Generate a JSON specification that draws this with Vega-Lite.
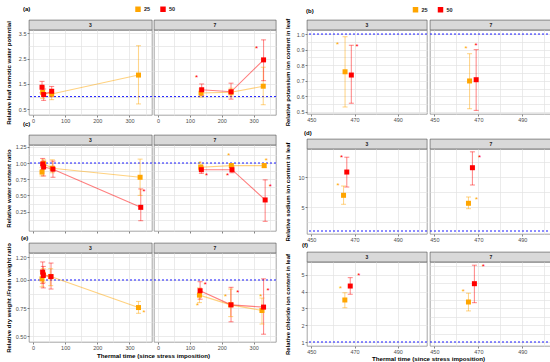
{
"$schema":"https://vega.github.io/schema/vega-lite/v6.json",
"background":"white",
"padding":{"left":4,"top":2,"right":0,"bottom":0},
"config":{
 "view":{"stroke":null},
 "font":"Liberation Sans",
 "axis":{"domain":false,"grid":true,"gridColor":"#E2E2E2","gridWidth":0.7,"gridOpacity":1,"tickSize":2,"tickColor":"#333333","tickWidth":0.6,"labelFontSize":5.5,"labelColor":"#4D4D4D","labelPadding":1,"labelFlush":false,"labelOverlap":false,"labelBound":false,"titleFontSize":6,"titleFontWeight":"bold","titleColor":"#000000"},
 "title":{"fontSize":6,"fontWeight":"bold","color":"#000000","anchor":"start"}
},
"datasets":{
 "A":[
  {"f":"3","g":"25","t":30,"m":1.17,"lo":0.93,"hi":1.38},
  {"f":"3","g":"50","t":28,"m":1.37,"lo":1.15,"hi":1.6},
  {"f":"3","g":"50","t":33,"m":1.08,"lo":0.85,"hi":1.3},
  {"f":"3","g":"25","t":58,"m":1.1,"lo":0.88,"hi":1.28},
  {"f":"3","g":"50","t":58,"m":1.21,"lo":1.0,"hi":1.4},
  {"f":"3","g":"25","t":328,"m":1.85,"lo":0.71,"hi":3.01},
  {"f":"7","g":"25","t":135,"m":1.14,"lo":0.98,"hi":1.3},
  {"f":"7","g":"50","t":137,"m":1.27,"lo":1.05,"hi":1.5},
  {"f":"7","g":"25","t":229,"m":1.17,"lo":1.02,"hi":1.33},
  {"f":"7","g":"50","t":229,"m":1.19,"lo":0.9,"hi":1.53},
  {"f":"7","g":"25","t":330,"m":1.41,"lo":0.68,"hi":2.16},
  {"f":"7","g":"50","t":331,"m":2.45,"lo":1.63,"hi":3.24}
 ],
 "As":[
  {"f":"7","g":"50","t":121,"v":1.8},
  {"f":"7","g":"50","t":309,"v":2.95}
 ],
 "C":[
  {"f":"3","g":"25","t":28,"m":0.86,"lo":0.8,"hi":0.93},
  {"f":"3","g":"25","t":33,"m":0.99,"lo":0.92,"hi":1.05},
  {"f":"3","g":"50","t":30,"m":0.985,"lo":0.9,"hi":1.07},
  {"f":"3","g":"50","t":33,"m":0.94,"lo":0.8,"hi":1.03},
  {"f":"3","g":"25","t":60,"m":0.92,"lo":0.85,"hi":1.05},
  {"f":"3","g":"50","t":62,"m":0.905,"lo":0.78,"hi":1.03},
  {"f":"3","g":"25","t":333,"m":0.78,"lo":0.5,"hi":1.06},
  {"f":"3","g":"50","t":335,"m":0.316,"lo":0.11,"hi":0.6},
  {"f":"7","g":"25","t":134,"m":0.935,"lo":0.89,"hi":0.98},
  {"f":"7","g":"50","t":136,"m":0.897,"lo":0.84,"hi":0.95},
  {"f":"7","g":"25","t":230,"m":0.96,"lo":0.93,"hi":0.99},
  {"f":"7","g":"50","t":232,"m":0.897,"lo":0.85,"hi":0.95},
  {"f":"7","g":"25","t":333,"m":0.96,"lo":0.93,"hi":0.99},
  {"f":"7","g":"50","t":336,"m":0.43,"lo":0.1,"hi":0.74}
 ],
 "Cs":[
  {"f":"3","g":"50","t":345,"v":0.59},
  {"f":"7","g":"25","t":133,"v":1.01},
  {"f":"7","g":"50","t":152,"v":0.83},
  {"f":"7","g":"25","t":222,"v":1.14},
  {"f":"7","g":"50","t":218,"v":0.83},
  {"f":"7","g":"25","t":340,"v":1.06},
  {"f":"7","g":"50","t":352,"v":0.665}
 ],
 "E":[
  {"f":"3","g":"25","t":28,"m":1.01,"lo":0.94,"hi":1.08},
  {"f":"3","g":"25","t":32,"m":1.05,"lo":0.98,"hi":1.1},
  {"f":"3","g":"50","t":30,"m":1.07,"lo":0.97,"hi":1.16},
  {"f":"3","g":"50","t":32,"m":1.04,"lo":0.93,"hi":1.12},
  {"f":"3","g":"25","t":55,"m":1.03,"lo":0.95,"hi":1.1},
  {"f":"3","g":"50","t":56,"m":1.03,"lo":0.92,"hi":1.15},
  {"f":"3","g":"25","t":328,"m":0.756,"lo":0.705,"hi":0.81},
  {"f":"7","g":"25","t":130,"m":0.866,"lo":0.8,"hi":0.93},
  {"f":"7","g":"50","t":132,"m":0.905,"lo":0.83,"hi":0.985},
  {"f":"7","g":"25","t":228,"m":0.78,"lo":0.676,"hi":0.92},
  {"f":"7","g":"50","t":229,"m":0.78,"lo":0.63,"hi":0.935},
  {"f":"7","g":"25","t":326,"m":0.73,"lo":0.61,"hi":0.84},
  {"f":"7","g":"50","t":331,"m":0.76,"lo":0.52,"hi":1.01}
 ],
 "Es":[
  {"f":"3","g":"25","t":345,"v":0.726},
  {"f":"7","g":"25","t":124,"v":0.79},
  {"f":"7","g":"50","t":148,"v":0.97},
  {"f":"7","g":"25","t":212,"v":0.866},
  {"f":"7","g":"50","t":250,"v":0.905},
  {"f":"7","g":"25","t":322,"v":0.87},
  {"f":"7","g":"50","t":345,"v":0.92}
 ],
 "B":[
  {"f":"3","g":"25","t":465.6,"m":0.758,"lo":0.532,"hi":0.983},
  {"f":"3","g":"50","t":468.5,"m":0.737,"lo":0.556,"hi":0.928},
  {"f":"7","g":"25","t":466,"m":0.699,"lo":0.521,"hi":0.874},
  {"f":"7","g":"50","t":469,"m":0.707,"lo":0.51,"hi":0.9}
 ],
 "Bs":[
  {"f":"3","g":"25","t":462.1,"v":0.94},
  {"f":"3","g":"50","t":471.2,"v":0.928},
  {"f":"7","g":"25","t":464.4,"v":0.915},
  {"f":"7","g":"50","t":469,"v":0.934}
 ],
 "D":[
  {"f":"3","g":"25","t":464.9,"m":6.95,"lo":5.45,"hi":8.5},
  {"f":"3","g":"50","t":466.4,"m":10.83,"lo":8.33,"hi":13.3},
  {"f":"7","g":"25","t":465.5,"m":5.62,"lo":4.72,"hi":6.67},
  {"f":"7","g":"50","t":467.3,"m":11.55,"lo":8.67,"hi":14.2}
 ],
 "Ds":[
  {"f":"3","g":"25","t":462.4,"v":8.78},
  {"f":"3","g":"50","t":464,"v":13.5},
  {"f":"7","g":"25","t":469.2,"v":6.45},
  {"f":"7","g":"50","t":470.6,"v":13.5}
 ],
 "F":[
  {"f":"3","g":"25","t":465.5,"m":3.5,"lo":3.04,"hi":3.93},
  {"f":"3","g":"50","t":468,"m":4.33,"lo":3.84,"hi":4.83},
  {"f":"7","g":"25","t":465.5,"m":3.38,"lo":2.85,"hi":3.9},
  {"f":"7","g":"50","t":468.2,"m":4.47,"lo":3.34,"hi":5.57}
 ],
 "Fs":[
  {"f":"3","g":"25","t":463.5,"v":4.29},
  {"f":"3","g":"50","t":472,"v":5.03},
  {"f":"7","g":"25","t":463.2,"v":4.11},
  {"f":"7","g":"50","t":472.3,"v":5.57}
 ]
},
"spacing":6,
"resolve":{"legend":{"color":"independent"}},
"hconcat":[
{
 "columns":2,"bounds":"flush","spacing":{"row":0,"column":2},
 "resolve":{"legend":{"color":"independent"}},
 "concat":[
  {"width":123,"height":10,"title":{"text":"(a)","offset":8,"dx":-6},"data":{"values":[{"f":"3"}]},"mark":{"type":"text","fontSize":5,"fontWeight":"bold","color":"#1A1A1A","baseline":"middle"},"encoding":{"text":{"field":"f"}},"view":{"fill":"#D9D9D9","stroke":"#4D4D4D","strokeWidth":0.6}},
  {"width":122,"height":10,"data":{"values":[{"f":"7"}]},"mark":{"type":"text","fontSize":5,"fontWeight":"bold","color":"#1A1A1A","baseline":"middle"},"encoding":{"text":{"field":"f"}},"view":{"fill":"#D9D9D9","stroke":"#4D4D4D","strokeWidth":0.6}},
  {"width":123,"height":85,"view":{"stroke":"#7F7F7F","strokeWidth":0.7},"data":{"name":"A"},"transform":[{"filter":"datum.f == '3'"}],
   "layer":[
    {"data":{"values":[{}]},"mark":{"type":"rule","color":"#0000FF","strokeDash":[2,2],"strokeWidth":0.9},"encoding":{"y":{"datum":1}}},
    {"mark":{"type":"rule","strokeOpacity":0.45,"strokeWidth":1.1},"encoding":{
      "x":{"field":"t","type":"quantitative","scale":{"domain":[-12.5,370],"nice":false,"zero":false},"axis":{"values":[0,50,100,150,200,250,300,350],"tickCount":50,"format":"d","labelExpr":"datum.value % 100 == 0 ? datum.label : ''","tickOpacity":{"condition":{"test":"datum.value % 100 == 0","value":1},"value":0},"title":null}},
      "y":{"field":"lo","type":"quantitative","scale":{"domain":[0.273,3.63],"nice":false,"zero":false},"axis":{"values":[0.5,1,1.5,2,2.5,3,3.5],"tickCount":50,"format":".1f","labelExpr":"indexof([0.5,1.5,2.5,3.5], datum.value) >= 0 ? datum.label : ''","tickOpacity":{"condition":{"test":"indexof([0.5,1.5,2.5,3.5], datum.value) >= 0","value":1},"value":0},"title":"Relative leaf osmotic water potential","titleX":-21,"titleBaseline":"middle"}},
      "y2":{"field":"hi"},
      "color":{"field":"g","type":"nominal","scale":{"domain":["25","50"],"range":["#FFA500","#FF0000"]},"legend":{"title":null,"orient":"none","legendX":106,"legendY":-24,"direction":"horizontal","symbolType":"square","symbolSize":30,"symbolStrokeWidth":0,"symbolOpacity":1,"labelFontSize":5.5,"labelFontWeight":"bold","labelColor":"#1A1A1A","labelOffset":3,"columnPadding":9,"padding":0}}}},
    {"mark":{"type":"tick","orient":"horizontal","size":5,"thickness":1.1,"fillOpacity":0.45},"encoding":{"x":{"field":"t","type":"quantitative"},"y":{"field":"lo","type":"quantitative"},"color":{"field":"g","type":"nominal"}}},
    {"mark":{"type":"tick","orient":"horizontal","size":5,"thickness":1.1,"fillOpacity":0.45},"encoding":{"x":{"field":"t","type":"quantitative"},"y":{"field":"hi","type":"quantitative"},"color":{"field":"g","type":"nominal"}}},
    {"mark":{"type":"line","strokeOpacity":0.5,"strokeWidth":1.1},"encoding":{"x":{"field":"t","type":"quantitative"},"y":{"field":"m","type":"quantitative"},"color":{"field":"g","type":"nominal"}}},
    {"mark":{"type":"point","shape":"square","filled":true,"size":25,"opacity":1},"encoding":{"x":{"field":"t","type":"quantitative"},"y":{"field":"m","type":"quantitative"},"color":{"field":"g","type":"nominal"}}},
    {"data":{"name":"As"},"transform":[{"filter":"datum.f == '3'"}],"mark":{"type":"text","text":"*","fontSize":8,"baseline":"middle","dy":2},"encoding":{"x":{"field":"t","type":"quantitative"},"y":{"field":"v","type":"quantitative"},"color":{"field":"g","type":"nominal"}}}
   ]},
  {"width":122,"height":85,"view":{"stroke":"#7F7F7F","strokeWidth":0.7},"data":{"name":"A"},"transform":[{"filter":"datum.f == '7'"}],
   "layer":[
    {"data":{"values":[{}]},"mark":{"type":"rule","color":"#0000FF","strokeDash":[2,2],"strokeWidth":0.9},"encoding":{"y":{"datum":1}}},
    {"mark":{"type":"rule","strokeOpacity":0.45,"strokeWidth":1.1},"encoding":{
      "x":{"field":"t","type":"quantitative","scale":{"domain":[-12.5,370],"nice":false,"zero":false},"axis":{"values":[0,50,100,150,200,250,300,350],"tickCount":50,"format":"d","labelExpr":"datum.value % 100 == 0 ? datum.label : ''","tickOpacity":{"condition":{"test":"datum.value % 100 == 0","value":1},"value":0},"title":null}},
      "y":{"field":"lo","type":"quantitative","scale":{"domain":[0.273,3.63],"nice":false,"zero":false},"axis":{"values":[0.5,1,1.5,2,2.5,3,3.5],"tickCount":50,"labels":false,"ticks":false,"title":null}},
      "y2":{"field":"hi"},
      "color":{"field":"g","type":"nominal","scale":{"domain":["25","50"],"range":["#FFA500","#FF0000"]},"legend":null}}},
    {"mark":{"type":"tick","orient":"horizontal","size":5,"thickness":1.1,"fillOpacity":0.45},"encoding":{"x":{"field":"t","type":"quantitative"},"y":{"field":"lo","type":"quantitative"},"color":{"field":"g","type":"nominal","legend":null}}},
    {"mark":{"type":"tick","orient":"horizontal","size":5,"thickness":1.1,"fillOpacity":0.45},"encoding":{"x":{"field":"t","type":"quantitative"},"y":{"field":"hi","type":"quantitative"},"color":{"field":"g","type":"nominal","legend":null}}},
    {"mark":{"type":"line","strokeOpacity":0.5,"strokeWidth":1.1},"encoding":{"x":{"field":"t","type":"quantitative"},"y":{"field":"m","type":"quantitative"},"color":{"field":"g","type":"nominal","legend":null}}},
    {"mark":{"type":"point","shape":"square","filled":true,"size":25,"opacity":1},"encoding":{"x":{"field":"t","type":"quantitative"},"y":{"field":"m","type":"quantitative"},"color":{"field":"g","type":"nominal","legend":null}}},
    {"data":{"name":"As"},"transform":[{"filter":"datum.f == '7'"}],"mark":{"type":"text","text":"*","fontSize":8,"baseline":"middle","dy":2},"encoding":{"x":{"field":"t","type":"quantitative"},"y":{"field":"v","type":"quantitative"},"color":{"field":"g","type":"nominal","legend":null}}}
   ]},
  {"width":123,"height":20,"data":{"values":[]},"mark":"point"},
  {"width":122,"height":20,"data":{"values":[]},"mark":"point"},
  {"width":123,"height":10,"title":{"text":"(c)","offset":8,"dx":-6},"data":{"values":[{"f":"3"}]},"mark":{"type":"text","fontSize":5,"fontWeight":"bold","color":"#1A1A1A","baseline":"middle"},"encoding":{"text":{"field":"f"}},"view":{"fill":"#D9D9D9","stroke":"#4D4D4D","strokeWidth":0.6}},
  {"width":122,"height":10,"data":{"values":[{"f":"7"}]},"mark":{"type":"text","fontSize":5,"fontWeight":"bold","color":"#1A1A1A","baseline":"middle"},"encoding":{"text":{"field":"f"}},"view":{"fill":"#D9D9D9","stroke":"#4D4D4D","strokeWidth":0.6}},
  {"width":123,"height":86,"view":{"stroke":"#7F7F7F","strokeWidth":0.7},"data":{"name":"C"},"transform":[{"filter":"datum.f == '3'"}],
   "layer":[
    {"data":{"values":[{}]},"mark":{"type":"rule","color":"#0000FF","strokeDash":[2,2],"strokeWidth":0.9},"encoding":{"y":{"datum":1}}},
    {"mark":{"type":"rule","strokeOpacity":0.45,"strokeWidth":1.1},"encoding":{
      "x":{"field":"t","type":"quantitative","scale":{"domain":[-12.5,370],"nice":false,"zero":false},"axis":{"values":[0,50,100,150,200,250,300,350],"tickCount":50,"labels":false,"tickOpacity":{"condition":{"test":"datum.value % 100 == 0","value":1},"value":0},"title":null}},
      "y":{"field":"lo","type":"quantitative","scale":{"domain":[-0.049,1.278],"nice":false,"zero":false},"axis":{"values":[0.125,0.25,0.375,0.5,0.625,0.75,0.875,1,1.125,1.25],"tickCount":50,"format":".2f","labelExpr":"indexof([0.25,0.5,0.75,1,1.25], datum.value) >= 0 ? datum.label : ''","tickOpacity":{"condition":{"test":"indexof([0.25,0.5,0.75,1,1.25], datum.value) >= 0","value":1},"value":0},"title":"Relative water content ratio","titleX":-21,"titleBaseline":"middle"}},
      "y2":{"field":"hi"},
      "color":{"field":"g","type":"nominal","scale":{"domain":["25","50"],"range":["#FFA500","#FF0000"]},"legend":null}}},
    {"mark":{"type":"tick","orient":"horizontal","size":5,"thickness":1.1,"fillOpacity":0.45},"encoding":{"x":{"field":"t","type":"quantitative"},"y":{"field":"lo","type":"quantitative"},"color":{"field":"g","type":"nominal","legend":null}}},
    {"mark":{"type":"tick","orient":"horizontal","size":5,"thickness":1.1,"fillOpacity":0.45},"encoding":{"x":{"field":"t","type":"quantitative"},"y":{"field":"hi","type":"quantitative"},"color":{"field":"g","type":"nominal","legend":null}}},
    {"mark":{"type":"line","strokeOpacity":0.5,"strokeWidth":1.1},"encoding":{"x":{"field":"t","type":"quantitative"},"y":{"field":"m","type":"quantitative"},"color":{"field":"g","type":"nominal","legend":null}}},
    {"mark":{"type":"point","shape":"square","filled":true,"size":25,"opacity":1},"encoding":{"x":{"field":"t","type":"quantitative"},"y":{"field":"m","type":"quantitative"},"color":{"field":"g","type":"nominal","legend":null}}},
    {"data":{"name":"Cs"},"transform":[{"filter":"datum.f == '3'"}],"mark":{"type":"text","text":"*","fontSize":8,"baseline":"middle","dy":2},"encoding":{"x":{"field":"t","type":"quantitative"},"y":{"field":"v","type":"quantitative"},"color":{"field":"g","type":"nominal","legend":null}}}
   ]},
  {"width":122,"height":86,"view":{"stroke":"#7F7F7F","strokeWidth":0.7},"data":{"name":"C"},"transform":[{"filter":"datum.f == '7'"}],
   "layer":[
    {"data":{"values":[{}]},"mark":{"type":"rule","color":"#0000FF","strokeDash":[2,2],"strokeWidth":0.9},"encoding":{"y":{"datum":1}}},
    {"mark":{"type":"rule","strokeOpacity":0.45,"strokeWidth":1.1},"encoding":{
      "x":{"field":"t","type":"quantitative","scale":{"domain":[-12.5,370],"nice":false,"zero":false},"axis":{"values":[0,50,100,150,200,250,300,350],"tickCount":50,"labels":false,"tickOpacity":{"condition":{"test":"datum.value % 100 == 0","value":1},"value":0},"title":null}},
      "y":{"field":"lo","type":"quantitative","scale":{"domain":[-0.049,1.278],"nice":false,"zero":false},"axis":{"values":[0.125,0.25,0.375,0.5,0.625,0.75,0.875,1,1.125,1.25],"tickCount":50,"labels":false,"ticks":false,"title":null}},
      "y2":{"field":"hi"},
      "color":{"field":"g","type":"nominal","scale":{"domain":["25","50"],"range":["#FFA500","#FF0000"]},"legend":null}}},
    {"mark":{"type":"tick","orient":"horizontal","size":5,"thickness":1.1,"fillOpacity":0.45},"encoding":{"x":{"field":"t","type":"quantitative"},"y":{"field":"lo","type":"quantitative"},"color":{"field":"g","type":"nominal","legend":null}}},
    {"mark":{"type":"tick","orient":"horizontal","size":5,"thickness":1.1,"fillOpacity":0.45},"encoding":{"x":{"field":"t","type":"quantitative"},"y":{"field":"hi","type":"quantitative"},"color":{"field":"g","type":"nominal","legend":null}}},
    {"mark":{"type":"line","strokeOpacity":0.5,"strokeWidth":1.1},"encoding":{"x":{"field":"t","type":"quantitative"},"y":{"field":"m","type":"quantitative"},"color":{"field":"g","type":"nominal","legend":null}}},
    {"mark":{"type":"point","shape":"square","filled":true,"size":25,"opacity":1},"encoding":{"x":{"field":"t","type":"quantitative"},"y":{"field":"m","type":"quantitative"},"color":{"field":"g","type":"nominal","legend":null}}},
    {"data":{"name":"Cs"},"transform":[{"filter":"datum.f == '7'"}],"mark":{"type":"text","text":"*","fontSize":8,"baseline":"middle","dy":2},"encoding":{"x":{"field":"t","type":"quantitative"},"y":{"field":"v","type":"quantitative"},"color":{"field":"g","type":"nominal","legend":null}}}
   ]},
  {"width":123,"height":12,"data":{"values":[]},"mark":"point"},
  {"width":122,"height":12,"data":{"values":[]},"mark":"point"},
  {"width":123,"height":10,"title":{"text":"(e)","offset":2,"dx":-8},"data":{"values":[{"f":"3"}]},"mark":{"type":"text","fontSize":5,"fontWeight":"bold","color":"#1A1A1A","baseline":"middle"},"encoding":{"text":{"field":"f"}},"view":{"fill":"#D9D9D9","stroke":"#4D4D4D","strokeWidth":0.6}},
  {"width":122,"height":10,"data":{"values":[{"f":"7"}]},"mark":{"type":"text","fontSize":5,"fontWeight":"bold","color":"#1A1A1A","baseline":"middle"},"encoding":{"text":{"field":"f"}},"view":{"fill":"#D9D9D9","stroke":"#4D4D4D","strokeWidth":0.6}},
  {"width":123,"height":89,"view":{"stroke":"#7F7F7F","strokeWidth":0.7},"data":{"name":"E"},"transform":[{"filter":"datum.f == '3'"}],
   "layer":[
    {"data":{"values":[{}]},"mark":{"type":"rule","color":"#0000FF","strokeDash":[2,2],"strokeWidth":0.9},"encoding":{"y":{"datum":1}}},
    {"mark":{"type":"rule","strokeOpacity":0.45,"strokeWidth":1.1},"encoding":{
      "x":{"field":"t","type":"quantitative","scale":{"domain":[-12.5,370],"nice":false,"zero":false},"axis":{"values":[0,50,100,150,200,250,300,350],"tickCount":50,"format":"d","labelExpr":"datum.value % 100 == 0 ? datum.label : ''","tickOpacity":{"condition":{"test":"datum.value % 100 == 0","value":1},"value":0},"title":"Thermal time (since stress imposition)","titleX":124,"titleY":13,"titleBaseline":"middle","titleAlign":"center","titleFontSize":6.2}},
      "y":{"field":"lo","type":"quantitative","scale":{"domain":[0.451,1.239],"nice":false,"zero":false},"axis":{"values":[0.5,0.625,0.75,0.875,1,1.1,1.2],"tickCount":50,"format":".2f","labelExpr":"indexof([0.5,0.75,1,1.2], datum.value) >= 0 ? datum.label : ''","tickOpacity":{"condition":{"test":"indexof([0.5,0.75,1,1.2], datum.value) >= 0","value":1},"value":0},"title":"Relative dry weight /Fresh weight ratio","titleX":-21,"titleBaseline":"middle"}},
      "y2":{"field":"hi"},
      "color":{"field":"g","type":"nominal","scale":{"domain":["25","50"],"range":["#FFA500","#FF0000"]},"legend":null}}},
    {"mark":{"type":"tick","orient":"horizontal","size":5,"thickness":1.1,"fillOpacity":0.45},"encoding":{"x":{"field":"t","type":"quantitative"},"y":{"field":"lo","type":"quantitative"},"color":{"field":"g","type":"nominal","legend":null}}},
    {"mark":{"type":"tick","orient":"horizontal","size":5,"thickness":1.1,"fillOpacity":0.45},"encoding":{"x":{"field":"t","type":"quantitative"},"y":{"field":"hi","type":"quantitative"},"color":{"field":"g","type":"nominal","legend":null}}},
    {"mark":{"type":"line","strokeOpacity":0.5,"strokeWidth":1.1},"encoding":{"x":{"field":"t","type":"quantitative"},"y":{"field":"m","type":"quantitative"},"color":{"field":"g","type":"nominal","legend":null}}},
    {"mark":{"type":"point","shape":"square","filled":true,"size":25,"opacity":1},"encoding":{"x":{"field":"t","type":"quantitative"},"y":{"field":"m","type":"quantitative"},"color":{"field":"g","type":"nominal","legend":null}}},
    {"data":{"name":"Es"},"transform":[{"filter":"datum.f == '3'"}],"mark":{"type":"text","text":"*","fontSize":8,"baseline":"middle","dy":2},"encoding":{"x":{"field":"t","type":"quantitative"},"y":{"field":"v","type":"quantitative"},"color":{"field":"g","type":"nominal","legend":null}}}
   ]},
  {"width":122,"height":89,"view":{"stroke":"#7F7F7F","strokeWidth":0.7},"data":{"name":"E"},"transform":[{"filter":"datum.f == '7'"}],
   "layer":[
    {"data":{"values":[{}]},"mark":{"type":"rule","color":"#0000FF","strokeDash":[2,2],"strokeWidth":0.9},"encoding":{"y":{"datum":1}}},
    {"mark":{"type":"rule","strokeOpacity":0.45,"strokeWidth":1.1},"encoding":{
      "x":{"field":"t","type":"quantitative","scale":{"domain":[-12.5,370],"nice":false,"zero":false},"axis":{"values":[0,50,100,150,200,250,300,350],"tickCount":50,"format":"d","labelExpr":"datum.value % 100 == 0 ? datum.label : ''","tickOpacity":{"condition":{"test":"datum.value % 100 == 0","value":1},"value":0},"title":null}},
      "y":{"field":"lo","type":"quantitative","scale":{"domain":[0.451,1.239],"nice":false,"zero":false},"axis":{"values":[0.5,0.625,0.75,0.875,1,1.1,1.2],"tickCount":50,"labels":false,"ticks":false,"title":null}},
      "y2":{"field":"hi"},
      "color":{"field":"g","type":"nominal","scale":{"domain":["25","50"],"range":["#FFA500","#FF0000"]},"legend":null}}},
    {"mark":{"type":"tick","orient":"horizontal","size":5,"thickness":1.1,"fillOpacity":0.45},"encoding":{"x":{"field":"t","type":"quantitative"},"y":{"field":"lo","type":"quantitative"},"color":{"field":"g","type":"nominal","legend":null}}},
    {"mark":{"type":"tick","orient":"horizontal","size":5,"thickness":1.1,"fillOpacity":0.45},"encoding":{"x":{"field":"t","type":"quantitative"},"y":{"field":"hi","type":"quantitative"},"color":{"field":"g","type":"nominal","legend":null}}},
    {"mark":{"type":"line","strokeOpacity":0.5,"strokeWidth":1.1},"encoding":{"x":{"field":"t","type":"quantitative"},"y":{"field":"m","type":"quantitative"},"color":{"field":"g","type":"nominal","legend":null}}},
    {"mark":{"type":"point","shape":"square","filled":true,"size":25,"opacity":1},"encoding":{"x":{"field":"t","type":"quantitative"},"y":{"field":"m","type":"quantitative"},"color":{"field":"g","type":"nominal","legend":null}}},
    {"data":{"name":"Es"},"transform":[{"filter":"datum.f == '7'"}],"mark":{"type":"text","text":"*","fontSize":8,"baseline":"middle","dy":2},"encoding":{"x":{"field":"t","type":"quantitative"},"y":{"field":"v","type":"quantitative"},"color":{"field":"g","type":"nominal","legend":null}}}
   ]}
 ]
},
{
 "columns":2,"bounds":"flush","spacing":{"row":0,"column":3},
 "resolve":{"legend":{"color":"independent"}},
 "concat":[
  {"width":120,"height":10,"title":{"text":"(b)","offset":6,"dx":-1},"data":{"values":[{"f":"3"}]},"mark":{"type":"text","fontSize":5,"fontWeight":"bold","color":"#1A1A1A","baseline":"middle"},"encoding":{"text":{"field":"f"}},"view":{"fill":"#D9D9D9","stroke":"#4D4D4D","strokeWidth":0.6}},
  {"width":122,"height":10,"data":{"values":[{"f":"7"}]},"mark":{"type":"text","fontSize":5,"fontWeight":"bold","color":"#1A1A1A","baseline":"middle"},"encoding":{"text":{"field":"f"}},"view":{"fill":"#D9D9D9","stroke":"#4D4D4D","strokeWidth":0.6}},
  {"width":120,"height":84,"view":{"stroke":"#7F7F7F","strokeWidth":0.7},"data":{"name":"B"},"transform":[{"filter":"datum.f == '3'"}],
   "layer":[
    {"data":{"values":[{}]},"mark":{"type":"rule","color":"#0000FF","strokeDash":[2,2],"strokeWidth":0.9},"encoding":{"y":{"datum":1}}},
    {"mark":{"type":"rule","strokeOpacity":0.45,"strokeWidth":1.1},"encoding":{
      "x":{"field":"t","type":"quantitative","scale":{"domain":[448,503.5],"nice":false,"zero":false},"axis":{"values":[450,460,470,480,490,500],"tickCount":50,"format":"d","labelExpr":"(datum.value - 450) % 20 == 0 ? datum.label : ''","tickOpacity":{"condition":{"test":"(datum.value - 450) % 20 == 0","value":1},"value":0},"title":null}},
      "y":{"field":"lo","type":"quantitative","scale":{"domain":[0.487,1.026],"nice":false,"zero":false},"axis":{"values":[0.5,0.55,0.6,0.65,0.7,0.75,0.8,0.85,0.9,0.95,1],"tickCount":50,"format":".1f","labelExpr":"indexof([0.5,0.6,0.7,0.8,0.9,1], datum.value) >= 0 ? datum.label : ''","tickOpacity":{"condition":{"test":"indexof([0.5,0.6,0.7,0.8,0.9,1], datum.value) >= 0","value":1},"value":0},"title":"Relative potassium ion content in leaf","titleX":-20,"titleBaseline":"middle"}},
      "y2":{"field":"hi"},
      "color":{"field":"g","type":"nominal","scale":{"domain":["25","50"],"range":["#FFA500","#FF0000"]},"legend":{"title":null,"orient":"none","legendX":102,"legendY":-27,"direction":"horizontal","symbolType":"square","symbolSize":30,"symbolStrokeWidth":0,"symbolOpacity":1,"labelFontSize":5.5,"labelFontWeight":"bold","labelColor":"#1A1A1A","labelOffset":3,"columnPadding":9,"padding":3.5}}}},
    {"mark":{"type":"tick","orient":"horizontal","size":5,"thickness":1.1,"fillOpacity":0.45},"encoding":{"x":{"field":"t","type":"quantitative"},"y":{"field":"lo","type":"quantitative"},"color":{"field":"g","type":"nominal"}}},
    {"mark":{"type":"tick","orient":"horizontal","size":5,"thickness":1.1,"fillOpacity":0.45},"encoding":{"x":{"field":"t","type":"quantitative"},"y":{"field":"hi","type":"quantitative"},"color":{"field":"g","type":"nominal"}}},
    {"mark":{"type":"point","shape":"square","filled":true,"size":25,"opacity":1},"encoding":{"x":{"field":"t","type":"quantitative"},"y":{"field":"m","type":"quantitative"},"color":{"field":"g","type":"nominal"}}},
    {"data":{"name":"Bs"},"transform":[{"filter":"datum.f == '3'"}],"mark":{"type":"text","text":"*","fontSize":8,"baseline":"middle","dy":2},"encoding":{"x":{"field":"t","type":"quantitative"},"y":{"field":"v","type":"quantitative"},"color":{"field":"g","type":"nominal"}}}
   ]},
  {"width":122,"height":84,"view":{"stroke":"#7F7F7F","strokeWidth":0.7},"data":{"name":"B"},"transform":[{"filter":"datum.f == '7'"}],
   "layer":[
    {"data":{"values":[{}]},"mark":{"type":"rule","color":"#0000FF","strokeDash":[2,2],"strokeWidth":0.9},"encoding":{"y":{"datum":1}}},
    {"mark":{"type":"rule","strokeOpacity":0.45,"strokeWidth":1.1},"encoding":{
      "x":{"field":"t","type":"quantitative","scale":{"domain":[448,503.5],"nice":false,"zero":false},"axis":{"values":[450,460,470,480,490,500],"tickCount":50,"format":"d","labelExpr":"(datum.value - 450) % 20 == 0 ? datum.label : ''","tickOpacity":{"condition":{"test":"(datum.value - 450) % 20 == 0","value":1},"value":0},"title":null}},
      "y":{"field":"lo","type":"quantitative","scale":{"domain":[0.487,1.026],"nice":false,"zero":false},"axis":{"values":[0.5,0.55,0.6,0.65,0.7,0.75,0.8,0.85,0.9,0.95,1],"tickCount":50,"labels":false,"ticks":false,"title":null}},
      "y2":{"field":"hi"},
      "color":{"field":"g","type":"nominal","scale":{"domain":["25","50"],"range":["#FFA500","#FF0000"]},"legend":null}}},
    {"mark":{"type":"tick","orient":"horizontal","size":5,"thickness":1.1,"fillOpacity":0.45},"encoding":{"x":{"field":"t","type":"quantitative"},"y":{"field":"lo","type":"quantitative"},"color":{"field":"g","type":"nominal","legend":null}}},
    {"mark":{"type":"tick","orient":"horizontal","size":5,"thickness":1.1,"fillOpacity":0.45},"encoding":{"x":{"field":"t","type":"quantitative"},"y":{"field":"hi","type":"quantitative"},"color":{"field":"g","type":"nominal","legend":null}}},
    {"mark":{"type":"point","shape":"square","filled":true,"size":25,"opacity":1},"encoding":{"x":{"field":"t","type":"quantitative"},"y":{"field":"m","type":"quantitative"},"color":{"field":"g","type":"nominal","legend":null}}},
    {"data":{"name":"Bs"},"transform":[{"filter":"datum.f == '7'"}],"mark":{"type":"text","text":"*","fontSize":8,"baseline":"middle","dy":2},"encoding":{"x":{"field":"t","type":"quantitative"},"y":{"field":"v","type":"quantitative"},"color":{"field":"g","type":"nominal","legend":null}}}
   ]},
  {"width":120,"height":25,"data":{"values":[]},"mark":"point"},
  {"width":122,"height":25,"data":{"values":[]},"mark":"point"},
  {"width":120,"height":10,"title":{"text":"(d)","offset":3,"dx":-3},"data":{"values":[{"f":"3"}]},"mark":{"type":"text","fontSize":5,"fontWeight":"bold","color":"#1A1A1A","baseline":"middle"},"encoding":{"text":{"field":"f"}},"view":{"fill":"#D9D9D9","stroke":"#4D4D4D","strokeWidth":0.6}},
  {"width":122,"height":10,"data":{"values":[{"f":"7"}]},"mark":{"type":"text","fontSize":5,"fontWeight":"bold","color":"#1A1A1A","baseline":"middle"},"encoding":{"text":{"field":"f"}},"view":{"fill":"#D9D9D9","stroke":"#4D4D4D","strokeWidth":0.6}},
  {"width":120,"height":85,"view":{"stroke":"#7F7F7F","strokeWidth":0.7},"data":{"name":"D"},"transform":[{"filter":"datum.f == '3'"}],
   "layer":[
    {"data":{"values":[{}]},"mark":{"type":"rule","color":"#0000FF","strokeDash":[2,2],"strokeWidth":0.9},"encoding":{"y":{"datum":1}}},
    {"mark":{"type":"rule","strokeOpacity":0.45,"strokeWidth":1.1},"encoding":{
      "x":{"field":"t","type":"quantitative","scale":{"domain":[448,503.5],"nice":false,"zero":false},"axis":{"values":[450,460,470,480,490,500],"tickCount":50,"format":"d","labelExpr":"(datum.value - 450) % 20 == 0 ? datum.label : ''","tickOpacity":{"condition":{"test":"(datum.value - 450) % 20 == 0","value":1},"value":0},"title":null}},
      "y":{"field":"lo","type":"quantitative","scale":{"domain":[0.5,14.67],"nice":false,"zero":false},"axis":{"values":[2.5,5,7.5,10,12.5],"tickCount":50,"format":"d","labelExpr":"indexof([5,10], datum.value) >= 0 ? datum.label : ''","tickOpacity":{"condition":{"test":"indexof([5,10], datum.value) >= 0","value":1},"value":0},"title":"Relative sodium ion content in leaf","titleX":-20,"titleBaseline":"middle"}},
      "y2":{"field":"hi"},
      "color":{"field":"g","type":"nominal","scale":{"domain":["25","50"],"range":["#FFA500","#FF0000"]},"legend":null}}},
    {"mark":{"type":"tick","orient":"horizontal","size":5,"thickness":1.1,"fillOpacity":0.45},"encoding":{"x":{"field":"t","type":"quantitative"},"y":{"field":"lo","type":"quantitative"},"color":{"field":"g","type":"nominal","legend":null}}},
    {"mark":{"type":"tick","orient":"horizontal","size":5,"thickness":1.1,"fillOpacity":0.45},"encoding":{"x":{"field":"t","type":"quantitative"},"y":{"field":"hi","type":"quantitative"},"color":{"field":"g","type":"nominal","legend":null}}},
    {"mark":{"type":"point","shape":"square","filled":true,"size":25,"opacity":1},"encoding":{"x":{"field":"t","type":"quantitative"},"y":{"field":"m","type":"quantitative"},"color":{"field":"g","type":"nominal","legend":null}}},
    {"data":{"name":"Ds"},"transform":[{"filter":"datum.f == '3'"}],"mark":{"type":"text","text":"*","fontSize":8,"baseline":"middle","dy":2},"encoding":{"x":{"field":"t","type":"quantitative"},"y":{"field":"v","type":"quantitative"},"color":{"field":"g","type":"nominal","legend":null}}}
   ]},
  {"width":122,"height":85,"view":{"stroke":"#7F7F7F","strokeWidth":0.7},"data":{"name":"D"},"transform":[{"filter":"datum.f == '7'"}],
   "layer":[
    {"data":{"values":[{}]},"mark":{"type":"rule","color":"#0000FF","strokeDash":[2,2],"strokeWidth":0.9},"encoding":{"y":{"datum":1}}},
    {"mark":{"type":"rule","strokeOpacity":0.45,"strokeWidth":1.1},"encoding":{
      "x":{"field":"t","type":"quantitative","scale":{"domain":[448,503.5],"nice":false,"zero":false},"axis":{"values":[450,460,470,480,490,500],"tickCount":50,"format":"d","labelExpr":"(datum.value - 450) % 20 == 0 ? datum.label : ''","tickOpacity":{"condition":{"test":"(datum.value - 450) % 20 == 0","value":1},"value":0},"title":null}},
      "y":{"field":"lo","type":"quantitative","scale":{"domain":[0.5,14.67],"nice":false,"zero":false},"axis":{"values":[2.5,5,7.5,10,12.5],"tickCount":50,"labels":false,"ticks":false,"title":null}},
      "y2":{"field":"hi"},
      "color":{"field":"g","type":"nominal","scale":{"domain":["25","50"],"range":["#FFA500","#FF0000"]},"legend":null}}},
    {"mark":{"type":"tick","orient":"horizontal","size":5,"thickness":1.1,"fillOpacity":0.45},"encoding":{"x":{"field":"t","type":"quantitative"},"y":{"field":"lo","type":"quantitative"},"color":{"field":"g","type":"nominal","legend":null}}},
    {"mark":{"type":"tick","orient":"horizontal","size":5,"thickness":1.1,"fillOpacity":0.45},"encoding":{"x":{"field":"t","type":"quantitative"},"y":{"field":"hi","type":"quantitative"},"color":{"field":"g","type":"nominal","legend":null}}},
    {"mark":{"type":"point","shape":"square","filled":true,"size":25,"opacity":1},"encoding":{"x":{"field":"t","type":"quantitative"},"y":{"field":"m","type":"quantitative"},"color":{"field":"g","type":"nominal","legend":null}}},
    {"data":{"name":"Ds"},"transform":[{"filter":"datum.f == '7'"}],"mark":{"type":"text","text":"*","fontSize":8,"baseline":"middle","dy":2},"encoding":{"x":{"field":"t","type":"quantitative"},"y":{"field":"v","type":"quantitative"},"color":{"field":"g","type":"nominal","legend":null}}}
   ]},
  {"width":120,"height":18,"data":{"values":[]},"mark":"point"},
  {"width":122,"height":18,"data":{"values":[]},"mark":"point"},
  {"width":120,"height":10,"title":{"text":"(f)","offset":4,"dx":-5},"data":{"values":[{"f":"3"}]},"mark":{"type":"text","fontSize":5,"fontWeight":"bold","color":"#1A1A1A","baseline":"middle"},"encoding":{"text":{"field":"f"}},"view":{"fill":"#D9D9D9","stroke":"#4D4D4D","strokeWidth":0.6}},
  {"width":122,"height":10,"data":{"values":[{"f":"7"}]},"mark":{"type":"text","fontSize":5,"fontWeight":"bold","color":"#1A1A1A","baseline":"middle"},"encoding":{"text":{"field":"f"}},"view":{"fill":"#D9D9D9","stroke":"#4D4D4D","strokeWidth":0.6}},
  {"width":120,"height":84,"view":{"stroke":"#7F7F7F","strokeWidth":0.7},"data":{"name":"F"},"transform":[{"filter":"datum.f == '3'"}],
   "layer":[
    {"data":{"values":[{}]},"mark":{"type":"rule","color":"#0000FF","strokeDash":[2,2],"strokeWidth":0.9},"encoding":{"y":{"datum":1}}},
    {"mark":{"type":"rule","strokeOpacity":0.45,"strokeWidth":1.1},"encoding":{
      "x":{"field":"t","type":"quantitative","scale":{"domain":[448,503.5],"nice":false,"zero":false},"axis":{"values":[450,460,470,480,490,500],"tickCount":50,"format":"d","labelExpr":"(datum.value - 450) % 20 == 0 ? datum.label : ''","tickOpacity":{"condition":{"test":"(datum.value - 450) % 20 == 0","value":1},"value":0},"title":"Thermal time (since stress imposition)","titleX":121,"titleY":12,"titleBaseline":"middle","titleAlign":"center","titleFontSize":6.2}},
      "y":{"field":"lo","type":"quantitative","scale":{"domain":[0.762,5.76],"nice":false,"zero":false},"axis":{"values":[1,1.5,2,2.5,3,3.5,4,4.5,5,5.5],"tickCount":50,"format":"d","labelExpr":"indexof([1,2,3,4,5], datum.value) >= 0 ? datum.label : ''","tickOpacity":{"condition":{"test":"indexof([1,2,3,4,5], datum.value) >= 0","value":1},"value":0},"title":"Relative chloride ion content in leaf","titleX":-20,"titleBaseline":"middle"}},
      "y2":{"field":"hi"},
      "color":{"field":"g","type":"nominal","scale":{"domain":["25","50"],"range":["#FFA500","#FF0000"]},"legend":null}}},
    {"mark":{"type":"tick","orient":"horizontal","size":5,"thickness":1.1,"fillOpacity":0.45},"encoding":{"x":{"field":"t","type":"quantitative"},"y":{"field":"lo","type":"quantitative"},"color":{"field":"g","type":"nominal","legend":null}}},
    {"mark":{"type":"tick","orient":"horizontal","size":5,"thickness":1.1,"fillOpacity":0.45},"encoding":{"x":{"field":"t","type":"quantitative"},"y":{"field":"hi","type":"quantitative"},"color":{"field":"g","type":"nominal","legend":null}}},
    {"mark":{"type":"point","shape":"square","filled":true,"size":25,"opacity":1},"encoding":{"x":{"field":"t","type":"quantitative"},"y":{"field":"m","type":"quantitative"},"color":{"field":"g","type":"nominal","legend":null}}},
    {"data":{"name":"Fs"},"transform":[{"filter":"datum.f == '3'"}],"mark":{"type":"text","text":"*","fontSize":8,"baseline":"middle","dy":2},"encoding":{"x":{"field":"t","type":"quantitative"},"y":{"field":"v","type":"quantitative"},"color":{"field":"g","type":"nominal","legend":null}}}
   ]},
  {"width":122,"height":84,"view":{"stroke":"#7F7F7F","strokeWidth":0.7},"data":{"name":"F"},"transform":[{"filter":"datum.f == '7'"}],
   "layer":[
    {"data":{"values":[{}]},"mark":{"type":"rule","color":"#0000FF","strokeDash":[2,2],"strokeWidth":0.9},"encoding":{"y":{"datum":1}}},
    {"mark":{"type":"rule","strokeOpacity":0.45,"strokeWidth":1.1},"encoding":{
      "x":{"field":"t","type":"quantitative","scale":{"domain":[448,503.5],"nice":false,"zero":false},"axis":{"values":[450,460,470,480,490,500],"tickCount":50,"format":"d","labelExpr":"(datum.value - 450) % 20 == 0 ? datum.label : ''","tickOpacity":{"condition":{"test":"(datum.value - 450) % 20 == 0","value":1},"value":0},"title":null}},
      "y":{"field":"lo","type":"quantitative","scale":{"domain":[0.762,5.76],"nice":false,"zero":false},"axis":{"values":[1,1.5,2,2.5,3,3.5,4,4.5,5,5.5],"tickCount":50,"labels":false,"ticks":false,"title":null}},
      "y2":{"field":"hi"},
      "color":{"field":"g","type":"nominal","scale":{"domain":["25","50"],"range":["#FFA500","#FF0000"]},"legend":null}}},
    {"mark":{"type":"tick","orient":"horizontal","size":5,"thickness":1.1,"fillOpacity":0.45},"encoding":{"x":{"field":"t","type":"quantitative"},"y":{"field":"lo","type":"quantitative"},"color":{"field":"g","type":"nominal","legend":null}}},
    {"mark":{"type":"tick","orient":"horizontal","size":5,"thickness":1.1,"fillOpacity":0.45},"encoding":{"x":{"field":"t","type":"quantitative"},"y":{"field":"hi","type":"quantitative"},"color":{"field":"g","type":"nominal","legend":null}}},
    {"mark":{"type":"point","shape":"square","filled":true,"size":25,"opacity":1},"encoding":{"x":{"field":"t","type":"quantitative"},"y":{"field":"m","type":"quantitative"},"color":{"field":"g","type":"nominal","legend":null}}},
    {"data":{"name":"Fs"},"transform":[{"filter":"datum.f == '7'"}],"mark":{"type":"text","text":"*","fontSize":8,"baseline":"middle","dy":2},"encoding":{"x":{"field":"t","type":"quantitative"},"y":{"field":"v","type":"quantitative"},"color":{"field":"g","type":"nominal","legend":null}}}
   ]}
 ]
}
]
}
